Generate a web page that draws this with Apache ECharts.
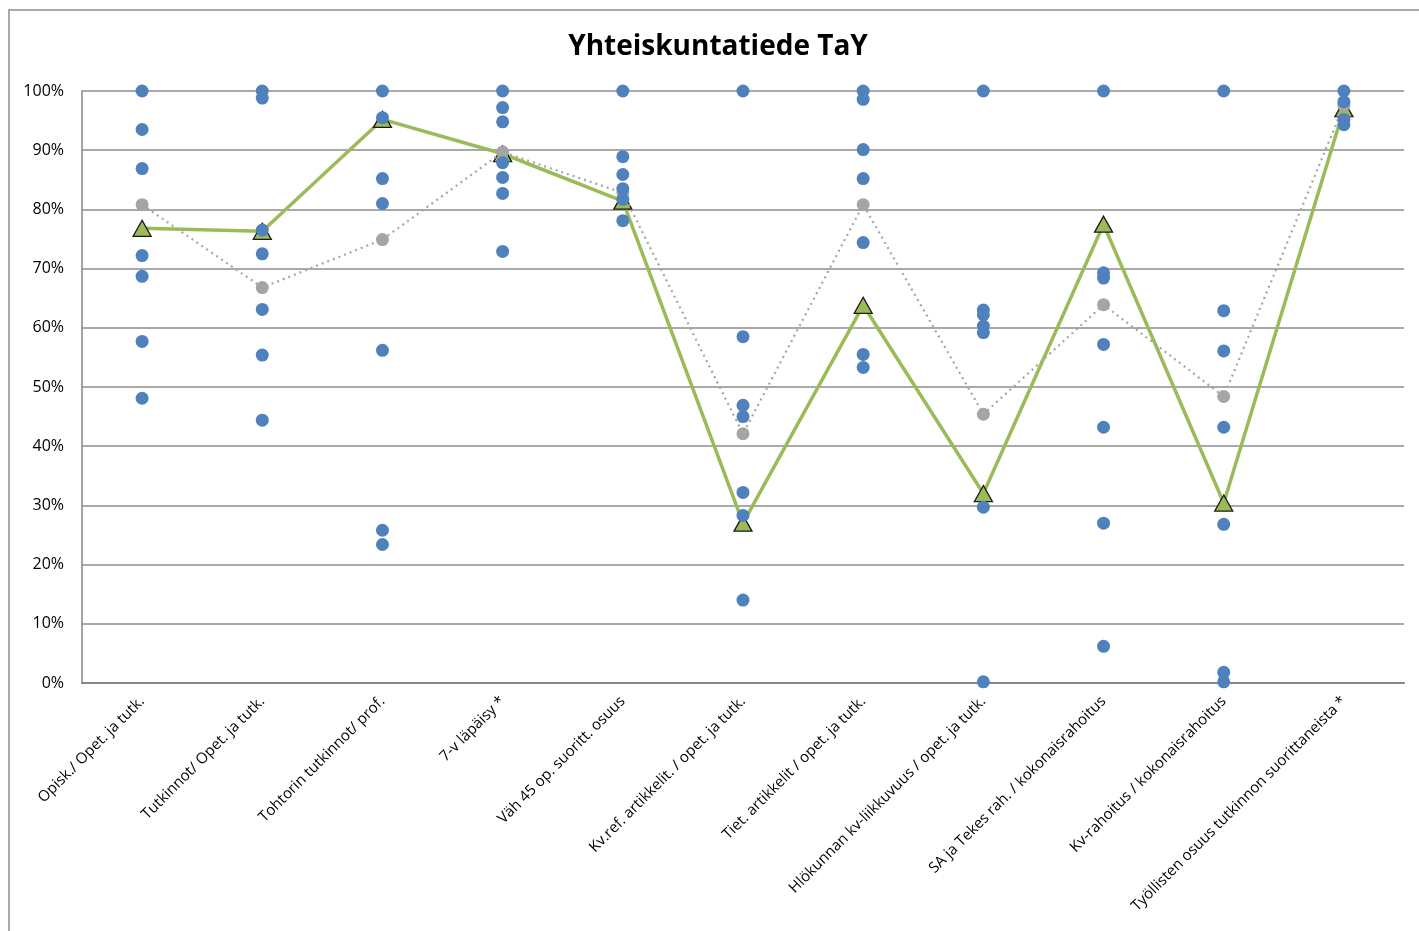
<!DOCTYPE html>
<html><head><meta charset="utf-8">
<script src="https://cdn.jsdelivr.net/npm/echarts@6/dist/echarts.min.js"></script>
<style>html,body{margin:0;padding:0;background:#fff}#c{width:1419px;height:931px}</style>
</head><body><div id="c"></div>
<script>
const categories = [
  'Opisk./ Opet. ja tutk.',
  'Tutkinnot/ Opet. ja tutk.',
  'Tohtorin tutkinnot/ prof.',
  '7-v läpäisy *',
  'Väh 45 op. suoritt. osuus',
  'Kv.ref. artikkelit. / opet. ja tutk.',
  'Tiet. artikkelit / opet. ja tutk.',
  'Hlökunnan kv-liikkuvuus / opet. ja tutk.',
  'SA ja Tekes rah. / kokonaisrahoitus',
  'Kv-rahoitus / kokonaisrahoitus',
  'Työllisten osuus tutkinnon suorittaneista *'
];
const yTicks = [0, 10, 20, 30, 40, 50, 60, 70, 80, 90, 100];
// TaY (green triangles) and grey median line
const tayValues = [76.8, 76.3, 95.2, 89.4, 81.4, 27.0, 63.8, 32.0, 77.5, 30.4, 97.0];
const medianValues = [80.8, 66.8, 74.9, 89.7, 82.8, 42.1, 80.8, 45.4, 63.9, 48.4, 97.6];
// blue dots per category
const dotsOpisk = [100, 93.5, 86.9, 72.2, 68.7, 57.7, 48.1];
const dotsTutkinnot = [100, 98.8, 76.5, 72.5, 63.1, 55.4, 44.4];
const dotsTohtori = [100, 95.5, 85.2, 81.0, 56.2, 25.8, 23.4];
const dotsLapaisy = [100, 97.2, 94.8, 87.9, 85.4, 82.7, 72.9];
const dotsVah45 = [100, 88.9, 85.9, 83.5, 81.7, 78.1];
const dotsKvRef = [100, 58.5, 46.9, 45.0, 32.2, 28.3, 14.0];
const dotsTiet = [100, 98.6, 90.1, 85.2, 74.4, 55.5, 53.3];
const dotsLiikkuvuus = [100, 63.0, 62.2, 60.3, 59.2, 29.7, 0.2];
const dotsSaTekes = [100, 69.3, 68.4, 57.2, 43.2, 27.0, 6.2];
const dotsKvRah = [100, 62.9, 56.1, 43.2, 26.8, 1.8, 0.2];
const dotsTyolliset = [100, 98.2, 95.2, 94.3];

const dotGroups = [dotsOpisk, dotsTutkinnot, dotsTohtori, dotsLapaisy, dotsVah45, dotsKvRef,
  dotsTiet, dotsLiikkuvuus, dotsSaTekes, dotsKvRah, dotsTyolliset];
const scatterData = [];
dotGroups.forEach((g, i) => g.forEach(v => scatterData.push([categories[i], v])));

const chart = echarts.init(document.getElementById('c'), null, {renderer: 'canvas'});
chart.setOption({
  animation: false,
  backgroundColor: '#ffffff',
  graphic: [
    {
      type: 'rect', shape: {x: 9, y: 10, width: 1500, height: 1000},
      style: {fill: 'none', stroke: '#8e8e8e', lineWidth: 1.5}, z: 0, silent: true
    },
    {
      type: 'text', x: 718, y: 47, z: 10, silent: true,
      style: {
        text: 'Yhteiskuntatiede TaY', align: 'center', verticalAlign: 'middle',
        font: 'bold 28px "Open Sans"', fill: '#000'
      }
    }
  ],
  grid: {left: 82, right: 15, top: 91, bottom: 248, containLabel: false},
  xAxis: {
    type: 'category', data: categories,
    axisLine: {show: true, lineStyle: {color: '#868686', width: 2}},
    axisTick: {show: false},
    splitLine: {show: false},
    axisLabel: {interval: 0, rotate: 45, margin: 16, fontFamily: 'Open Sans', fontSize: 15, color: '#000'}
  },
  yAxis: {
    type: 'value', min: yTicks[0], max: yTicks[yTicks.length - 1], interval: 10,
    axisLine: {show: true, lineStyle: {color: '#868686', width: 1.5}},
    axisTick: {show: false},
    splitLine: {show: true, lineStyle: {color: '#8c8c8c', width: 1.5}},
    axisLabel: {formatter: '{value}%', margin: 18, fontFamily: 'Open Sans', fontSize: 16, color: '#000'}
  },
  series: [
    {
      name: 'TaY', type: 'line', data: tayValues, z: 2,
      symbol: 'triangle', symbolSize: [18, 16],
      lineStyle: {color: '#9BBB59', width: 3.5},
      itemStyle: {color: '#9BBB59', borderColor: '#1a1a1a', borderWidth: 1.3}
    },
    {
      name: 'Mediaani', type: 'line', data: medianValues, z: 3,
      symbol: 'circle', symbolSize: 13,
      lineStyle: {color: '#A5A5A5', width: 2.2, type: [2, 4]},
      itemStyle: {color: '#A5A5A5', opacity: 1}
    },
    {
      name: 'Yksiköt', type: 'scatter', data: scatterData, z: 4,
      symbol: 'circle', symbolSize: 13,
      itemStyle: {color: '#4F81BD', opacity: 1}
    }
  ]
});
</script></body></html>
